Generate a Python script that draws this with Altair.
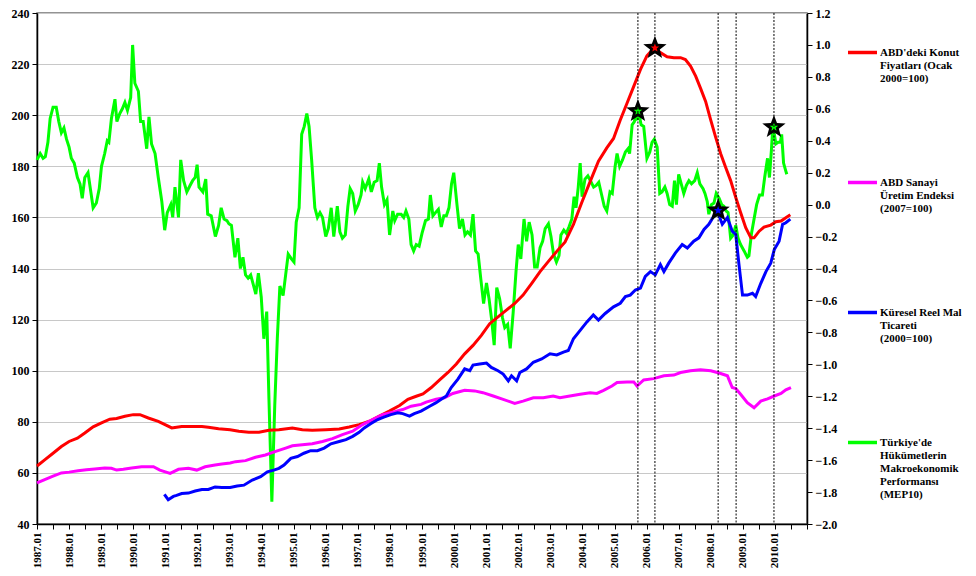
import math
import altair as alt
import pandas as pd

SERIES = [
    "ABD'deki Konut|Fiyatları (Ocak|2000=100)",
    "ABD Sanayi|Üretim Endeksi|(2007=100)",
    "Küresel Reel Mal|Ticareti|(2000=100)",
    "Türkiye'de|Hükümetlerin|Makroekonomik|Performansı|(MEP10)",
]
COLORS = ["#ff0000", "#ff00ff", "#0000ff", "#00ff00"]

# ABD'deki Konut Fiyatları (left axis)
red_pts = [
    (1987.0, 62.7), (1987.24, 65.1), (1987.5, 67.7), (1987.76, 70.3), (1988.0, 72.3),
    (1988.26, 73.6), (1988.49, 75.6), (1988.75, 78.0), (1989.01, 79.6), (1989.27, 81.0),
    (1989.48, 81.3), (1989.74, 82.2), (1990.0, 82.8), (1990.21, 82.8), (1990.47, 81.5),
    (1990.78, 80.2), (1990.99, 78.9), (1991.2, 77.6), (1991.3, 77.8), (1991.51, 78.2),
    (1992.14, 78.2), (1992.34, 77.9), (1992.66, 77.3), (1993.02, 76.9), (1993.29, 76.3),
    (1993.6, 75.9), (1993.92, 75.9), (1994.23, 76.7), (1994.54, 76.9), (1994.96, 77.6),
    (1995.27, 76.9), (1995.58, 76.7), (1996.0, 76.9), (1996.42, 77.2), (1996.73, 78.0),
    (1997.04, 78.9), (1997.36, 80.2), (1997.67, 82.2), (1997.98, 84.2), (1998.3, 86.4),
    (1998.56, 88.8), (1998.82, 90.0), (1999.03, 90.9), (1999.29, 93.4), (1999.55, 96.4),
    (1999.81, 99.3), (2000.07, 102.6), (2000.33, 106.6), (2000.59, 109.9), (2000.85, 113.8),
    (2001.11, 118.4), (2001.37, 121.1), (2001.63, 123.7), (2001.89, 126.3), (2002.15, 129.6),
    (2002.42, 134.2), (2002.68, 138.8), (2002.94, 142.8), (2003.2, 146.7), (2003.46, 150.4),
    (2003.72, 157.3), (2003.98, 165.8), (2004.24, 174.0), (2004.5, 182.0), (2004.76, 187.2),
    (2004.97, 190.9), (2005.18, 198.1), (2005.39, 204.7), (2005.6, 211.3), (2005.81, 217.9),
    (2006.01, 223.2), (2006.22, 226.1), (2006.43, 224.5), (2006.64, 222.9), (2006.85, 222.5),
    (2007.06, 222.5), (2007.21, 221.8), (2007.37, 219.2), (2007.53, 215.3), (2007.68, 210.6),
    (2007.84, 205.4), (2008.0, 198.1), (2008.15, 191.5), (2008.31, 184.9), (2008.46, 179.7),
    (2008.62, 174.4), (2008.78, 167.8), (2008.93, 161.9), (2009.09, 156.0), (2009.25, 152.0),
    (2009.35, 152.0), (2009.51, 154.6), (2009.66, 156.2), (2009.87, 157.0), (2010.03, 158.3),
    (2010.19, 158.6), (2010.34, 159.9), (2010.48, 161.0),
]

# ABD Sanayi Üretim Endeksi (left axis)
mag_pts = [
    (1987.0, 56.1), (1987.24, 57.4), (1987.5, 58.7), (1987.76, 60.0), (1988.0, 60.3),
    (1988.28, 60.8), (1988.54, 61.2), (1988.8, 61.5), (1989.11, 61.9), (1989.32, 61.8),
    (1989.48, 61.1), (1989.69, 61.4), (1989.95, 61.9), (1990.26, 62.4), (1990.63, 62.4),
    (1990.83, 61.1), (1991.15, 59.8), (1991.41, 61.4), (1991.72, 61.8), (1991.98, 61.1),
    (1992.24, 62.4), (1992.55, 63.1), (1992.76, 63.5), (1993.02, 63.9), (1993.19, 64.4),
    (1993.5, 64.8), (1993.81, 66.1), (1994.12, 67.0), (1994.44, 68.4), (1994.75, 69.7),
    (1994.96, 70.6), (1995.27, 71.0), (1995.58, 71.4), (1995.9, 72.3), (1996.21, 73.4),
    (1996.52, 75.0), (1996.84, 76.3), (1997.15, 78.9), (1997.46, 80.9), (1997.77, 82.8),
    (1998.09, 83.8), (1998.4, 84.8), (1998.66, 86.1), (1998.97, 86.8), (1999.13, 87.7),
    (1999.44, 88.8), (1999.7, 89.4), (1999.96, 91.1), (2000.33, 92.3), (2000.64, 92.1),
    (2000.9, 91.4), (2001.22, 90.1), (2001.53, 88.8), (2001.89, 87.2), (2002.15, 88.1),
    (2002.47, 89.4), (2002.78, 89.4), (2003.09, 90.1), (2003.3, 89.4), (2003.61, 90.1),
    (2003.93, 90.8), (2004.24, 91.4), (2004.45, 91.1), (2004.66, 92.3), (2004.92, 94.0),
    (2005.08, 95.4), (2005.39, 95.6), (2005.6, 95.6), (2005.7, 94.0), (2005.91, 96.4),
    (2006.22, 96.9), (2006.54, 98.0), (2006.85, 98.3), (2007.06, 99.3), (2007.37, 100.0),
    (2007.68, 100.4), (2008.0, 100.0), (2008.26, 99.1), (2008.52, 98.0), (2008.67, 93.4),
    (2008.78, 93.0), (2008.93, 90.8), (2009.14, 87.5), (2009.35, 85.5), (2009.56, 88.1),
    (2009.77, 89.0), (2009.98, 90.1), (2010.19, 91.1), (2010.34, 92.5), (2010.5, 93.4),
]

# Küresel Reel Mal Ticareti (left axis)
blue_pts = [
    (1990.97, 51.6), (1991.09, 49.5), (1991.25, 50.8), (1991.35, 51.2), (1991.51, 51.9),
    (1991.72, 52.1), (1991.93, 52.9), (1992.14, 53.5), (1992.34, 53.5), (1992.55, 54.5),
    (1992.76, 54.3), (1993.02, 54.3), (1993.24, 54.9), (1993.45, 55.2), (1993.71, 57.2),
    (1993.97, 58.5), (1994.18, 60.4), (1994.38, 61.1), (1994.54, 61.8), (1994.7, 63.1),
    (1994.91, 65.7), (1995.12, 66.4), (1995.32, 67.7), (1995.53, 68.7), (1995.74, 68.7),
    (1995.95, 69.7), (1996.16, 71.4), (1996.42, 72.3), (1996.63, 73.0), (1996.84, 74.3),
    (1997.04, 75.9), (1997.2, 77.6), (1997.41, 79.3), (1997.62, 80.9), (1997.83, 81.9),
    (1998.03, 82.8), (1998.24, 83.5), (1998.4, 83.2), (1998.61, 82.2), (1998.76, 83.2),
    (1998.97, 84.2), (1999.24, 86.1), (1999.44, 87.5), (1999.6, 88.8), (1999.76, 90.1),
    (1999.91, 93.4), (2000.12, 96.7), (2000.33, 100.7), (2000.49, 100.0), (2000.59, 102.2),
    (2000.8, 102.6), (2001.01, 103.0), (2001.16, 101.3), (2001.37, 100.0), (2001.53, 98.7),
    (2001.69, 96.0), (2001.79, 98.0), (2001.95, 96.0), (2002.05, 99.3), (2002.26, 100.7),
    (2002.47, 103.3), (2002.73, 104.6), (2002.99, 106.6), (2003.2, 106.2), (2003.41, 107.3),
    (2003.56, 107.9), (2003.72, 112.5), (2003.93, 115.8), (2004.14, 119.1), (2004.34, 121.8),
    (2004.5, 119.8), (2004.71, 122.4), (2004.97, 125.0), (2005.18, 126.4), (2005.34, 129.0),
    (2005.49, 129.6), (2005.65, 131.6), (2005.81, 132.3), (2005.96, 136.9), (2006.12, 138.8),
    (2006.27, 137.5), (2006.43, 141.5), (2006.54, 138.8), (2006.69, 142.1), (2006.9, 146.1),
    (2007.11, 149.4), (2007.27, 148.0), (2007.47, 150.7), (2007.63, 152.0), (2007.79, 155.3),
    (2007.94, 157.3), (2008.1, 160.6), (2008.2, 162.6), (2008.36, 157.3), (2008.52, 159.9),
    (2008.67, 154.6), (2008.78, 153.3), (2008.88, 141.5), (2008.99, 129.6), (2009.14, 129.6),
    (2009.3, 130.3), (2009.4, 129.0), (2009.56, 134.2), (2009.72, 138.8), (2009.87, 142.1),
    (2009.98, 147.4), (2010.13, 150.7), (2010.24, 157.3), (2010.34, 157.9), (2010.48, 159.3),
]

# Türkiye'de Hükümetlerin Makroekonomik Performansı, MEP10 (right axis)
green_pts = [
    (1987.0, 0.28), (1987.1, 0.32), (1987.19, 0.29), (1987.26, 0.30), (1987.34, 0.39),
    (1987.41, 0.54), (1987.5, 0.61), (1987.6, 0.61), (1987.68, 0.52), (1987.76, 0.45),
    (1987.84, 0.48), (1987.92, 0.41), (1988.0, 0.36), (1988.07, 0.29), (1988.16, 0.26),
    (1988.26, 0.17), (1988.34, 0.13), (1988.41, 0.04), (1988.49, 0.17), (1988.59, 0.20),
    (1988.67, 0.09), (1988.75, -0.02), (1988.85, 0.01), (1988.94, 0.10), (1989.01, 0.24),
    (1989.11, 0.32), (1989.19, 0.40), (1989.24, 0.39), (1989.32, 0.54), (1989.43, 0.66),
    (1989.49, 0.52), (1989.58, 0.57), (1989.66, 0.60), (1989.74, 0.64), (1989.82, 0.59),
    (1989.92, 0.67), (1989.98, 1.00), (1990.05, 0.76), (1990.16, 0.71), (1990.23, 0.52),
    (1990.31, 0.52), (1990.42, 0.35), (1990.49, 0.55), (1990.57, 0.38), (1990.68, 0.32),
    (1990.78, 0.17), (1990.89, 0.02), (1990.98, -0.16), (1991.06, -0.05), (1991.17, 0.00),
    (1991.23, -0.08), (1991.3, 0.11), (1991.41, -0.08), (1991.48, 0.28), (1991.57, 0.15),
    (1991.67, 0.08), (1991.77, 0.12), (1991.85, 0.15), (1991.93, 0.17), (1991.99, 0.25),
    (1992.05, 0.11), (1992.17, 0.08), (1992.26, 0.16), (1992.32, -0.06), (1992.43, -0.07),
    (1992.56, -0.20), (1992.66, -0.13), (1992.74, -0.02), (1992.83, -0.09), (1992.92, -0.10),
    (1992.98, -0.12), (1993.06, -0.13), (1993.17, -0.33), (1993.26, -0.21), (1993.34, -0.40),
    (1993.42, -0.33), (1993.5, -0.44), (1993.58, -0.46), (1993.66, -0.44), (1993.74, -0.50),
    (1993.82, -0.56), (1993.9, -0.43), (1993.99, -0.58), (1994.07, -0.84), (1994.16, -0.67),
    (1994.23, -1.22), (1994.32, -1.86), (1994.41, -1.26), (1994.49, -0.84), (1994.57, -0.51),
    (1994.67, -0.57), (1994.75, -0.44), (1994.83, -0.31), (1994.93, -0.34), (1995.01, -0.36),
    (1995.08, -0.11), (1995.17, -0.02), (1995.25, 0.44), (1995.33, 0.49), (1995.41, 0.57),
    (1995.48, 0.49), (1995.56, 0.28), (1995.66, -0.02), (1995.74, -0.08), (1995.82, -0.05),
    (1995.9, -0.08), (1996.0, -0.20), (1996.08, -0.15), (1996.17, -0.02), (1996.25, -0.20),
    (1996.36, -0.01), (1996.44, -0.17), (1996.52, -0.21), (1996.61, -0.19), (1996.69, -0.01),
    (1996.76, 0.10), (1996.84, 0.07), (1996.92, -0.04), (1997.01, 0.00), (1997.1, 0.06),
    (1997.15, 0.14), (1997.23, 0.10), (1997.34, 0.16), (1997.42, 0.08), (1997.51, 0.14),
    (1997.6, 0.15), (1997.67, 0.26), (1997.74, 0.11), (1997.83, 0.00), (1997.91, 0.03),
    (1997.99, -0.19), (1998.09, -0.04), (1998.15, -0.10), (1998.24, -0.06), (1998.35, -0.06),
    (1998.43, -0.08), (1998.5, -0.04), (1998.59, -0.09), (1998.66, -0.25), (1998.74, -0.29),
    (1998.82, -0.25), (1998.91, -0.26), (1999.0, -0.18), (1999.11, -0.10), (1999.2, -0.09),
    (1999.26, 0.06), (1999.34, -0.07), (1999.42, -0.05), (1999.51, -0.03), (1999.6, -0.14),
    (1999.68, -0.07), (1999.76, -0.07), (1999.84, -0.02), (1999.92, 0.13), (1999.99, 0.20),
    (2000.09, 0.00), (2000.17, -0.15), (2000.26, -0.09), (2000.34, -0.19), (2000.42, -0.17),
    (2000.51, -0.19), (2000.59, -0.06), (2000.67, -0.29), (2000.75, -0.31), (2000.83, -0.46),
    (2000.92, -0.62), (2001.01, -0.49), (2001.09, -0.59), (2001.17, -0.72), (2001.25, -0.88),
    (2001.33, -0.52), (2001.42, -0.59), (2001.51, -0.71), (2001.58, -0.77), (2001.67, -0.75),
    (2001.75, -0.90), (2001.84, -0.68), (2001.93, -0.42), (2002.0, -0.25), (2002.08, -0.34),
    (2002.18, -0.09), (2002.26, -0.23), (2002.34, -0.11), (2002.43, -0.19), (2002.51, -0.39),
    (2002.59, -0.39), (2002.68, -0.27), (2002.76, -0.23), (2002.84, -0.15), (2002.94, -0.12),
    (2003.02, -0.20), (2003.1, -0.31), (2003.19, -0.36), (2003.27, -0.32), (2003.33, -0.19),
    (2003.42, -0.16), (2003.5, -0.18), (2003.58, -0.14), (2003.67, -0.09), (2003.74, 0.05),
    (2003.8, -0.02), (2003.87, 0.11), (2003.93, 0.26), (2003.99, 0.05), (2004.08, 0.16),
    (2004.17, 0.18), (2004.25, 0.15), (2004.35, 0.11), (2004.43, 0.12), (2004.51, 0.14),
    (2004.6, 0.06), (2004.68, -0.01), (2004.76, -0.04), (2004.86, 0.08), (2004.93, 0.07),
    (2005.02, 0.24), (2005.08, 0.32), (2005.16, 0.24), (2005.25, 0.28), (2005.34, 0.33),
    (2005.42, 0.35), (2005.47, 0.32), (2005.55, 0.50), (2005.62, 0.52), (2005.69, 0.59),
    (2005.72, 0.54), (2005.78, 0.55), (2005.83, 0.50), (2005.91, 0.49), (2006.01, 0.29),
    (2006.1, 0.33), (2006.17, 0.39), (2006.24, 0.41), (2006.33, 0.36), (2006.41, 0.07),
    (2006.48, 0.08), (2006.57, 0.11), (2006.64, 0.07), (2006.72, 0.00), (2006.8, -0.01),
    (2006.87, 0.15), (2006.93, 0.00), (2007.0, 0.19), (2007.08, 0.13), (2007.16, 0.07),
    (2007.24, 0.12), (2007.32, 0.15), (2007.4, 0.13), (2007.5, 0.15), (2007.58, 0.20),
    (2007.66, 0.13), (2007.76, 0.10), (2007.82, 0.07), (2007.89, 0.02), (2007.94, -0.06),
    (2008.02, 0.00), (2008.1, 0.01), (2008.17, 0.07), (2008.26, 0.04), (2008.34, 0.00),
    (2008.41, -0.01), (2008.48, -0.04), (2008.54, -0.05), (2008.62, -0.21), (2008.7, -0.19),
    (2008.78, -0.13), (2008.85, -0.21), (2008.93, -0.25), (2009.04, -0.29), (2009.14, -0.33),
    (2009.19, -0.32), (2009.27, -0.18), (2009.35, -0.09), (2009.43, 0.00), (2009.52, 0.06),
    (2009.61, 0.06), (2009.68, 0.17), (2009.77, 0.29), (2009.83, 0.17), (2009.89, 0.34),
    (2009.92, 0.44), (2009.96, 0.47), (2010.03, 0.38), (2010.1, 0.39), (2010.17, 0.39),
    (2010.21, 0.44), (2010.27, 0.26), (2010.34, 0.21), (2010.37, 0.19),
]

# marked turning points
red_star = [(2006.26, 226.3)]
blue_star = [(2008.23, 162.7)]
green_stars = [(2005.73, 0.585), (2009.97, 0.485)]
event_lines = [2005.73, 2006.26, 2008.23, 2008.79, 2009.97]

x_tick_values = [1987 + 0.5 * i for i in range(49)]
left_ticks = [40, 60, 80, 100, 120, 140, 160, 180, 200, 220, 240]
right_ticks = [-2.0, -1.8, -1.6, -1.4, -1.2, -1.0, -0.8, -0.6, -0.4, -0.2,
               0.0, 0.2, 0.4, 0.6, 0.8, 1.0, 1.2]


def frame(pts, name):
    return pd.DataFrame({"t": [p[0] for p in pts], "v": [p[1] for p in pts], "s": name})


left_df = pd.concat([frame(red_pts, SERIES[0]), frame(mag_pts, SERIES[1]),
                     frame(blue_pts, SERIES[2])], ignore_index=True)
green_df = frame(green_pts, SERIES[3])
red_star_df = frame(red_star, SERIES[0])
blue_star_df = frame(blue_star, SERIES[2])
green_star_df = frame(green_stars, SERIES[3])
events_df = pd.DataFrame({"t": event_lines})

# 5-point star symbol path in the unit square
pts = []
for k in range(10):
    r = 1.0 if k % 2 == 0 else 0.42
    a = -math.pi / 2 + k * math.pi / 5
    pts.append((r * math.cos(a), r * math.sin(a)))
STAR = "M" + " L".join(f"{x:.4f},{y:.4f}" for x, y in pts) + " Z"

FONT = "Liberation Serif"

x_enc = alt.X(
    "t:Q",
    scale=alt.Scale(domain=[1987, 2011], nice=False, zero=False),
    axis=alt.Axis(
        values=x_tick_values,
        labelExpr="datum.value % 1 === 0 && datum.value <= 2010 ? datum.value + '.01' : ''",
        labelAngle=270, labelFlush=False, labelOverlap=False, grid=False,
        title=None, tickSize=5, labelPadding=3, labelFontSize=11,
    ),
)
y_left = alt.Y(
    "v:Q",
    scale=alt.Scale(domain=[40, 240], nice=False, zero=False),
    axis=alt.Axis(orient="left", values=left_ticks, grid=True, title=None,
                  tickSize=5, labelPadding=3),
)
y_right = alt.Y(
    "v:Q",
    scale=alt.Scale(domain=[-2.0, 1.2], nice=False, zero=False),
    axis=alt.Axis(orient="right", values=right_ticks, format=".1f", grid=False,
                  title=None, tickSize=5, labelPadding=3),
)

color_enc = alt.Color(
    "s:N",
    scale=alt.Scale(domain=SERIES, range=COLORS),
    title=None,
    legend=alt.Legend(
        orient="none", legendX=809, legendY=23, direction="vertical",
        symbolType="stroke", symbolSize=841, symbolStrokeWidth=3.5,
        labelExpr="split(datum.label, '|')", labelFont=FONT, labelFontSize=11,
        labelFontWeight="bold", labelColor="black", labelBaseline="middle",
        labelLimit=300, labelOffset=1, rowPadding=82, padding=0,
    ),
)

green_line = alt.Chart(green_df).mark_line(strokeWidth=3).encode(
    x=x_enc, y=y_right, color=color_enc)
green_big = alt.Chart(green_star_df).mark_point(
    shape=STAR, filled=True, color="black", size=600, opacity=1).encode(x=x_enc, y=y_right)
green_small = alt.Chart(green_star_df).mark_point(
    shape=STAR, filled=True, color="#00ff00", size=80, opacity=1).encode(x=x_enc, y=y_right)

left_lines = alt.Chart(left_df).mark_line(strokeWidth=3).encode(
    x=x_enc, y=y_left, color=color_enc)
rules = alt.Chart(events_df).mark_rule(
    color="black", strokeWidth=1, strokeDash=[2, 1.5]).encode(x=x_enc)
red_big = alt.Chart(red_star_df).mark_point(
    shape=STAR, filled=True, color="black", size=600, opacity=1).encode(x=x_enc, y=y_left)
red_small = alt.Chart(red_star_df).mark_point(
    shape=STAR, filled=True, color="#ff0000", size=80, opacity=1).encode(x=x_enc, y=y_left)
blue_big = alt.Chart(blue_star_df).mark_point(
    shape=STAR, filled=True, color="black", size=600, opacity=1).encode(x=x_enc, y=y_left)
blue_small = alt.Chart(blue_star_df).mark_point(
    shape=STAR, filled=True, color="#0000ff", size=80, opacity=1).encode(x=x_enc, y=y_left)

right_group = alt.layer(green_line, green_big, green_small)
left_group = alt.layer(left_lines, rules, red_big, red_small, blue_big, blue_small)

chart = (
    alt.layer(right_group, left_group)
    .resolve_scale(y="independent")
    .properties(
        width=770, height=511,
        autosize=alt.AutoSizeParams(type="none"),
        padding={"left": 29, "top": 5, "right": 161, "bottom": 44},
    )
    .configure_view(stroke="#707070", strokeWidth=1.5)
    .configure_axis(
        labelFont=FONT, labelFontWeight="bold", labelFontSize=12, labelColor="black",
        domainColor="black", domainWidth=1.5, tickColor="black", tickWidth=1,
        gridColor="#c8c8c8", gridWidth=1,
    )
)

chart.save("out.html", embed_options={"renderer": "svg", "actions": False})
